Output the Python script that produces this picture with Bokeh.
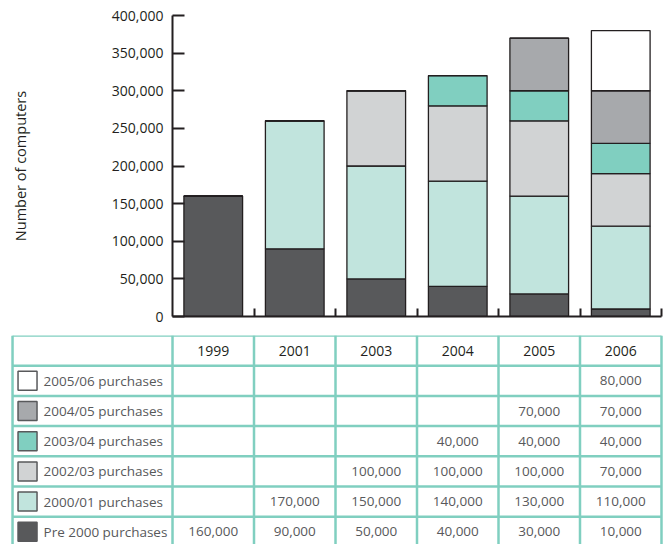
from bokeh.plotting import figure
from bokeh.models import ColumnDataSource, Range1d, FixedTicker, NumeralTickFormatter, LinearAxis
from bokeh.layouts import column
from bokeh.embed import file_html
from bokeh.resources import INLINE
from bokeh.core.properties import value

# ---- data ----
years = ["1999", "2001", "2003", "2004", "2005", "2006"]
pre_2000 = [160000, 90000, 50000, 40000, 30000, 10000]
p_2000_01 = [0, 170000, 150000, 140000, 130000, 110000]
p_2002_03 = [0, 0, 100000, 100000, 100000, 70000]
p_2003_04 = [0, 0, 0, 40000, 40000, 40000]
p_2004_05 = [0, 0, 0, 0, 70000, 70000]
p_2005_06 = [0, 0, 0, 0, 0, 80000]

series_keys = ["pre", "s0001", "s0203", "s0304", "s0405", "s0506"]
series_labels = ["Pre 2000 purchases", "2000/01 purchases", "2002/03 purchases",
                 "2003/04 purchases", "2004/05 purchases", "2005/06 purchases"]
series_values = [pre_2000, p_2000_01, p_2002_03, p_2003_04, p_2004_05, p_2005_06]
colors = ["#58595b", "#c1e4dd", "#d1d3d4", "#80cfc0", "#a7a9ac", "#ffffff"]
y_ticks = [0, 50000, 100000, 150000, 200000, 250000, 300000, 350000, 400000]

FONT = "Open Sans"
FS = "14px"
FS_T = "13.5px"
DARK = "#231f20"
GRAY = "#58595b"
GRID = "#80cfc0"

# ---- chart ----
data = {"x": [i + 0.5 for i in range(len(years))]}
for k, v in zip(series_keys, series_values):
    data[k] = v
src = ColumnDataSource(data)

p = figure(width=668, height=326, output_backend="svg", toolbar_location=None,
           x_range=Range1d(0, 6), y_range=Range1d(0, 400000),
           min_border_left=172, min_border_right=7, min_border_top=15, min_border_bottom=10,
           x_axis_location=None, y_axis_location=None, frame_align=False)
p.outline_line_color = None
p.xgrid.visible = False
p.ygrid.visible = False

p.vbar_stack(series_keys, x="x", width=0.72, source=src, color=colors,
             line_color=DARK, line_width=1.3)

yaxis = LinearAxis(ticker=FixedTicker(ticks=y_ticks),
                   formatter=NumeralTickFormatter(format="0,0"))
yaxis.axis_line_color = DARK
yaxis.axis_line_width = 2
yaxis.major_tick_line_color = DARK
yaxis.major_tick_line_width = 2
yaxis.major_tick_in = 12
yaxis.major_tick_out = 0
yaxis.minor_tick_line_color = None
yaxis.major_label_standoff = 9
yaxis.major_label_text_font = FONT
yaxis.major_label_text_font_size = FS
yaxis.major_label_text_color = DARK
yaxis.axis_label = "Number of computers"
yaxis.axis_label_text_font = FONT
yaxis.axis_label_text_font_size = "14.5px"
yaxis.axis_label_text_font_style = "normal"
yaxis.axis_label_text_color = DARK
yaxis.axis_label_standoff = 79
p.add_layout(yaxis, "left")

xaxis = LinearAxis(ticker=FixedTicker(ticks=[1, 2, 3, 4, 5, 6]),
                   major_label_overrides={i: "" for i in range(1, 7)})
xaxis.axis_line_color = DARK
xaxis.axis_line_width = 2
xaxis.major_tick_line_color = DARK
xaxis.major_tick_line_width = 2
xaxis.major_tick_in = 8
xaxis.major_tick_out = 0
xaxis.minor_tick_line_color = None
xaxis.major_label_standoff = 0
p.add_layout(xaxis, "below")

# ---- table ----
ROW_H = 30.2
n_rows = len(series_labels) + 1
t = figure(width=668, height=218, output_backend="svg", toolbar_location=None,
           x_range=Range1d(-1.988, 6.086), y_range=Range1d(209, 0),
           min_border_left=10, min_border_right=0, min_border_top=9, min_border_bottom=0,
           x_axis_location=None, y_axis_location=None, frame_align=False)
t.outline_line_color = None
t.xgrid.visible = False
t.ygrid.visible = False

LEFT = -1.963
vx = [LEFT] + list(range(len(years) + 1))
ys_h = [i * ROW_H for i in range(n_rows + 1)]
t.multi_line(xs=[[x, x] for x in vx], ys=[[0, n_rows * ROW_H] for _ in vx],
             line_color=GRID, line_width=2.5)
t.multi_line(xs=[[LEFT, 6] for _ in ys_h], ys=[[y, y] for y in ys_h],
             line_color=GRID, line_width=2.5)

# header
t.text(x=[i + 0.5 for i in range(len(years))], y=[ROW_H / 2] * len(years), text=years,
       text_align="center", text_baseline="middle", text_font=value(FONT),
       text_font_size="14px", text_font_style="normal", text_color=DARK)

# rows (top: 2005/06 ... bottom: Pre 2000)
row_order = list(range(len(series_labels)))[::-1]
lx, ly, lt, sx, sy, sc = [], [], [], [], [], []
vxs, vys, vts = [], [], []
for r, si in enumerate(row_order):
    yc = (r + 1.5) * ROW_H
    sx.append(-1.779); sy.append(yc); sc.append(colors[si])
    lx.append(-1.583); ly.append(yc); lt.append(series_labels[si])
    for j, v in enumerate(series_values[si]):
        if v:
            vxs.append(j + 0.5); vys.append(yc); vts.append(f"{v:,}")

t.rect(x=sx, y=sy, width=19, height=19, width_units="screen", height_units="screen",
       fill_color=sc, line_color=GRAY, line_width=1.5)
t.text(x=lx, y=ly, text=lt, text_align="left", text_baseline="middle",
       text_font=value(FONT), text_font_size=FS_T, text_color=GRAY)
t.text(x=vxs, y=vys, text=vts, text_align="center", text_baseline="middle",
       text_font=value(FONT), text_font_size=FS_T, text_color=GRAY)

layout = column(p, t, spacing=0)
open("out.html", "w").write(file_html(layout, INLINE))
